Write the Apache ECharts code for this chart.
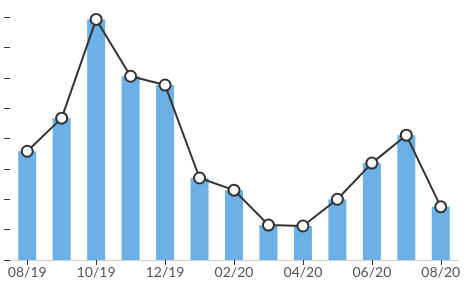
<!DOCTYPE html>
<html>
<head>
<meta charset="utf-8">
<script src="https://cdn.jsdelivr.net/npm/echarts@6/dist/echarts.min.js"></script>
<style>html,body{margin:0;padding:0;background:#fff;}#c{width:469px;height:286px;}</style>
</head>
<body>
<div id="c"></div>
<script>
const categories = ['08/19','09/19','10/19','11/19','12/19','01/20','02/20','03/20','04/20','05/20','06/20','07/20','08/20'];
const barValues = [3.58, 4.67, 7.92, 6.05, 5.76, 2.70, 2.30, 1.15, 1.12, 2.00, 3.19, 4.11, 1.75];
const lineValues = [3.58, 4.67, 7.92, 6.05, 5.76, 2.70, 2.30, 1.15, 1.12, 2.00, 3.19, 4.11, 1.75];

const chart = echarts.init(document.getElementById('c'));
chart.setOption({
  animation: false,
  grid: {left: 10, right: 11, top: 17, bottom: 26, containLabel: false},
  xAxis: {
    type: 'category',
    data: categories,
    boundaryGap: true,
    axisLine: {show: true, lineStyle: {color: '#d0d0d0', width: 1}},
    axisTick: {show: true, alignWithLabel: true, length: 5, lineStyle: {color: '#333'}},
    axisLabel: {interval: 1, color: '#555', fontFamily: 'Lato', fontSize: 14, margin: 5}
  },
  yAxis: {
    type: 'value',
    min: 0, max: 8, interval: 1,
    axisLine: {show: false},
    axisTick: {show: true, length: 6, lineStyle: {color: '#333'}},
    axisLabel: {show: false},
    splitLine: {show: false}
  },
  series: [
    {
      type: 'bar',
      data: barValues,
      barWidth: 18,
      itemStyle: {color: '#6cb0e5'}
    },
    {
      type: 'line',
      data: lineValues,
      symbol: 'circle',
      symbolSize: 11,
      lineStyle: {color: '#333', width: 2},
      itemStyle: {color: '#fff', borderColor: '#333', borderWidth: 2},
      z: 5
    }
  ]
});
</script>
</body>
</html>
